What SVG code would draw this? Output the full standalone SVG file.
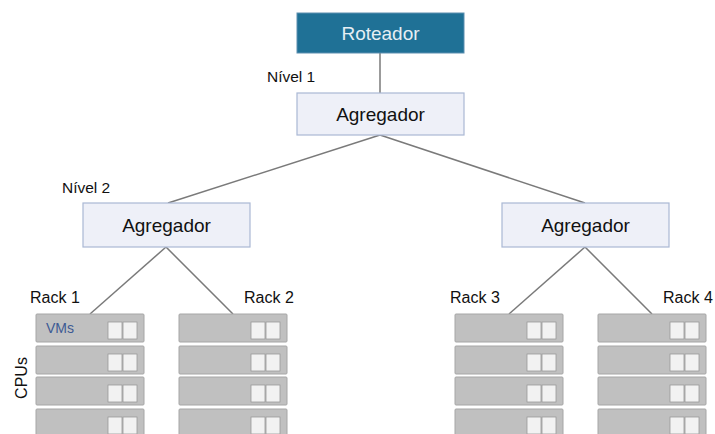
<svg xmlns="http://www.w3.org/2000/svg" width="715" height="434" viewBox="0 0 715 434">
<defs>
<style>
.t{font-family:"Helvetica Neue","Liberation Sans",Arial,sans-serif;fill:#111}
.agg{fill:#eef0f8;stroke:#aab8d4;stroke-width:1.2}
.srv{fill:#c0c0c0;stroke:#a6a6a6;stroke-width:1}
.sq{fill:#f2f2f2;stroke:#9a9a9a;stroke-width:0.8}
.ln{stroke:#7a7a7a;stroke-width:1.5;fill:none}
</style>
<g id="server">
<rect class="srv" x="0" y="0" width="108" height="28" rx="1"/>
<rect class="sq" x="72" y="8" width="14" height="17"/>
<rect class="sq" x="87" y="8" width="14" height="17"/>
</g>
</defs>
<rect width="715" height="434" fill="#fff"/>
<g id="connectors">
<line class="ln" x1="380" y1="53" x2="380" y2="93"/>
<line class="ln" x1="380" y1="135" x2="168" y2="203"/>
<line class="ln" x1="380" y1="135" x2="585" y2="203"/>
<line class="ln" x1="166" y1="247" x2="90" y2="314"/>
<line class="ln" x1="166" y1="247" x2="233" y2="314"/>
<line class="ln" x1="585" y1="247" x2="509" y2="314"/>
<line class="ln" x1="585" y1="247" x2="652" y2="314"/>
</g>
<g id="roteador">
<rect x="297" y="13" width="167" height="40" fill="#1f7196" stroke="#5d8fb0" stroke-width="1"/>
<text class="t" x="380.5" y="40" font-size="19" text-anchor="middle" style="fill:#e6eef4">Roteador</text>
</g>
<g id="agregador1">
<rect class="agg" x="297" y="93" width="167" height="42"/>
<text class="t" x="380.5" y="121" font-size="19" text-anchor="middle">Agregador</text>
</g>
<text class="t" x="267" y="82" font-size="15.5">Nível 1</text>
<text class="t" x="62" y="193" font-size="15.5">Nível 2</text>
<g id="agregador2">
<rect class="agg" x="83" y="203" width="167" height="44"/>
<text class="t" x="166.5" y="232" font-size="19" text-anchor="middle">Agregador</text>
</g>
<g id="agregador3">
<rect class="agg" x="502" y="203" width="167" height="44"/>
<text class="t" x="585.5" y="232" font-size="19" text-anchor="middle">Agregador</text>
</g>
<g id="rack1">
<text class="t" x="30" y="303" font-size="16">Rack 1</text>
<use href="#server" x="36" y="314"/>
<use href="#server" x="36" y="346"/>
<use href="#server" x="36" y="377"/>
<use href="#server" x="36" y="409"/>
<text x="46" y="333" font-size="14" font-family="Helvetica Neue, Liberation Sans, Arial, sans-serif" fill="#3d5a94">VMs</text>
</g>
<text class="t" transform="translate(27,378) rotate(-90)" font-size="16" text-anchor="middle">CPUs</text>
<g id="rack2">
<text class="t" x="244" y="303" font-size="16">Rack 2</text>
<use href="#server" x="179" y="314"/>
<use href="#server" x="179" y="346"/>
<use href="#server" x="179" y="377"/>
<use href="#server" x="179" y="409"/>
</g>
<g id="rack3">
<text class="t" x="450" y="303" font-size="16">Rack 3</text>
<use href="#server" x="455" y="314"/>
<use href="#server" x="455" y="346"/>
<use href="#server" x="455" y="377"/>
<use href="#server" x="455" y="409"/>
</g>
<g id="rack4">
<text class="t" x="663" y="303" font-size="16">Rack 4</text>
<use href="#server" x="598" y="314"/>
<use href="#server" x="598" y="346"/>
<use href="#server" x="598" y="377"/>
<use href="#server" x="598" y="409"/>
</g>
</svg>
